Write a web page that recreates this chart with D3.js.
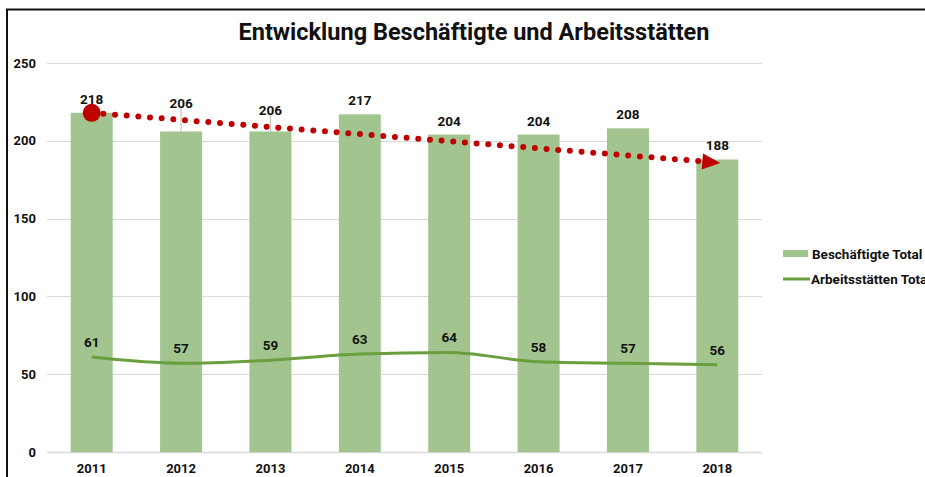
<!DOCTYPE html>
<html>
<head>
<meta charset="utf-8">
<script src="https://cdn.jsdelivr.net/npm/d3@7"></script>
<style>
	body { margin: 0; background: #fff; }
	svg { display: block; font-family: Roboto, sans-serif; }
	.tick-label { font-size: 13px; font-weight: bold; fill: #111; }
	.value { font-size: 13.5px; font-weight: bold; fill: #111; }
</style>
</head>
<body>
<div id="chart"></div>
<script>
const years = ['2011', '2012', '2013', '2014', '2015', '2016', '2017', '2018'];
const employees = [218, 206, 206, 217, 204, 204, 208, 188];
const workplaces = [61, 57, 59, 63, 64, 58, 57, 56];
const yTicks = [0, 50, 100, 150, 200, 250];
const trendStart = 218;
const trendEnd = 186;
const seriesNames = ['Beschäftigte Total', 'Arbeitsstätten Total'];

// extra lift for the bar labels that sit on a leader line
const labelLift = [0, 14, 7, 0, 0, 0, 0, 0];

const width = 925;
const height = 477;
const plotLeft = 47;
const plotRight = 762;
const plotTop = 63;
const plotBottom = 452;

const barColor = '#a2c58f';
const lineColor = '#6a9e3e';
const red = '#c00000';

const svg = d3.select('#chart')
	.append('svg')
	.attr('width', width)
	.attr('height', height);

// frame
svg.append('path')
	.attr('d', `M7,${height} V9.5 H${width}`)
	.attr('fill', 'none')
	.attr('stroke', '#111')
	.attr('stroke-width', 2);

svg.append('text')
	.attr('x', 474)
	.attr('y', 40)
	.attr('text-anchor', 'middle')
	.style('font-size', '23.5px')
	.style('font-weight', 'bold')
	.attr('fill', '#111')
	.text('Entwicklung Beschäftigte und Arbeitsstätten');

const x = d3.scaleBand()
	.domain(years)
	.range([plotLeft, plotRight])
	.paddingInner(0.53)
	.paddingOuter(0.265);

const y = d3.scaleLinear()
	.domain([0, 250])
	.range([plotBottom, plotTop]);

// grid
svg.selectAll('.grid')
	.data(yTicks)
	.join('line')
	.attr('class', 'grid')
	.attr('x1', plotLeft)
	.attr('x2', plotRight)
	.attr('y1', (d) => Math.round(y(d)) + 0.5)
	.attr('y2', (d) => Math.round(y(d)) + 0.5)
	.attr('stroke', '#d9d9d9')
	.attr('stroke-width', (d) => (d === 0 ? 1.5 : 1));

svg.selectAll('.y-label')
	.data(yTicks)
	.join('text')
	.attr('class', 'tick-label y-label')
	.attr('x', 36)
	.attr('y', (d) => y(d) + 4.5)
	.attr('text-anchor', 'end')
	.text((d) => d);

svg.selectAll('.x-label')
	.data(years)
	.join('text')
	.attr('class', 'tick-label x-label')
	.attr('x', (d) => x(d) + x.bandwidth() / 2)
	.attr('y', 473)
	.attr('text-anchor', 'middle')
	.text((d) => d);

// bars
svg.selectAll('.bar')
	.data(employees)
	.join('rect')
	.attr('class', 'bar')
	.attr('x', (d, i) => x(years[i]))
	.attr('y', (d) => y(d))
	.attr('width', x.bandwidth())
	.attr('height', (d) => y(0) - y(d))
	.attr('fill', barColor);

// leader lines for lifted labels
svg.selectAll('.leader')
	.data(employees)
	.join('line')
	.attr('class', 'leader')
	.attr('x1', (d, i) => x(years[i]) + x.bandwidth() / 2)
	.attr('x2', (d, i) => x(years[i]) + x.bandwidth() / 2)
	.attr('y1', (d, i) => y(d) - 10 - labelLift[i])
	.attr('y2', (d) => y(d))
	.attr('stroke', (d, i) => (labelLift[i] > 0 ? '#bbb' : 'none'))
	.attr('stroke-width', 1);

svg.selectAll('.bar-value')
	.data(employees)
	.join('text')
	.attr('class', 'value bar-value')
	.attr('x', (d, i) => x(years[i]) + x.bandwidth() / 2)
	.attr('y', (d, i) => y(d) - 9 - labelLift[i])
	.attr('text-anchor', 'middle')
	.text((d) => d);

// workplaces line
const line = d3.line()
	.x((d, i) => x(years[i]) + x.bandwidth() / 2)
	.y((d) => y(d))
	.curve(d3.curveMonotoneX);

svg.append('path')
	.datum(workplaces)
	.attr('d', line)
	.attr('fill', 'none')
	.attr('stroke', lineColor)
	.attr('stroke-width', 3);

svg.selectAll('.line-value')
	.data(workplaces)
	.join('text')
	.attr('class', 'value line-value')
	.attr('x', (d, i) => x(years[i]) + x.bandwidth() / 2)
	.attr('y', (d) => y(d) - 10)
	.attr('text-anchor', 'middle')
	.text((d) => d);

// red dotted trend arrow
const tx1 = x(years[0]) + x.bandwidth() / 2;
const ty1 = y(trendStart);
const tx2 = x(years[years.length - 1]) + x.bandwidth() / 2;
const ty2 = y(trendEnd);

svg.append('line')
	.attr('x1', tx1)
	.attr('y1', ty1)
	.attr('x2', tx2 - 12)
	.attr('y2', ty2 - 1)
	.attr('stroke', red)
	.attr('stroke-width', 6)
	.attr('stroke-linecap', 'round')
	.attr('stroke-dasharray', '0 11.7');

svg.append('circle')
	.attr('cx', tx1)
	.attr('cy', ty1)
	.attr('r', 9)
	.attr('fill', red);

const ang = Math.atan2(ty2 - ty1, tx2 - tx1);
const tip = [tx2 + 3, ty2 + 0.3];
const back = 18;
const half = 8;
const bx = tip[0] - back * Math.cos(ang);
const by = tip[1] - back * Math.sin(ang);
svg.append('path')
	.attr('d', d3.line()([
		tip,
		[bx - half * Math.sin(ang), by + half * Math.cos(ang)],
		[bx + half * Math.sin(ang), by - half * Math.cos(ang)]
	]) + 'Z')
	.attr('fill', red);

// legend
const legend = svg.append('g').attr('transform', 'translate(783, 254)');

legend.append('rect')
	.attr('x', 0)
	.attr('y', -4)
	.attr('width', 25)
	.attr('height', 7)
	.attr('fill', barColor);

legend.append('line')
	.attr('x1', 0)
	.attr('x2', 27)
	.attr('y1', 25)
	.attr('y2', 25)
	.attr('stroke', lineColor)
	.attr('stroke-width', 3);

legend.selectAll('text')
	.data(seriesNames)
	.join('text')
	.attr('x', (d, i) => (i === 0 ? 29 : 28))
	.attr('y', (d, i) => 4.5 + i * 25)
	.style('font-size', '13.5px')
	.style('font-weight', 'bold')
	.attr('fill', '#111')
	.text((d) => d);
</script>
</body>
</html>
